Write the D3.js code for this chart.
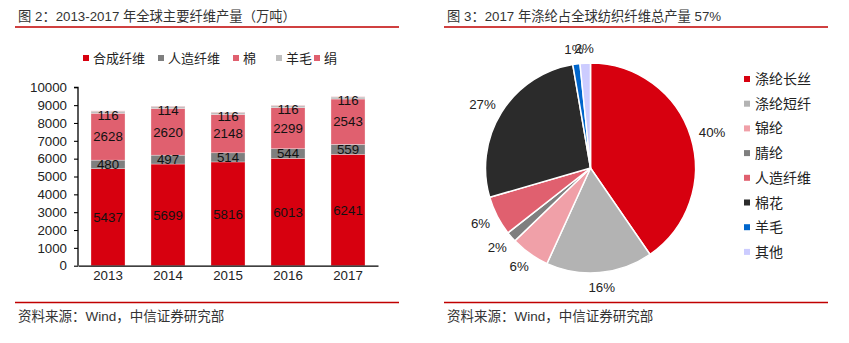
<!DOCTYPE html>
<html><head><meta charset="utf-8">
<script src="https://cdn.jsdelivr.net/npm/d3@7"></script>
<style>
body{margin:0;background:#fff;}
text{font-family:"Liberation Sans",Arial,"Noto Sans CJK SC",sans-serif;}
</style></head>
<body><svg id="c" width="849" height="343"></svg>
<script>
// ---- data: bar chart ----
const years = ["2013","2014","2015","2016","2017"];
const synthetic = [5437,5699,5816,6013,6241];   // 合成纤维
const rayon = [480,497,514,544,559];             // 人造纤维
const cotton = [2628,2620,2148,2299,2543];       // 棉
const wool = [116,114,116,116,116];              // 羊毛
const silk = [15,15,15,15,15];                   // 绢 (tiny, estimated)
const barSeriesNames = ["合成纤维","人造纤维","棉","羊毛","绢"];
const barColors = ["#D7000F","#7F7F7F","#E0606F","#BFBFBF","#E0606F"];
const yTicks = [0,1000,2000,3000,4000,5000,6000,7000,8000,9000,10000];
const barLabelSeries = [true,true,true,true,false];

// ---- data: pie chart ----
const pieNames = ["涤纶长丝","涤纶短纤","锦纶","腈纶","人造纤维","棉花","羊毛","其他"];
const pieValues = [40.4,16.4,6.0,1.6,6.1,26.8,1.1,1.6];
const pieColors = ["#D7000F","#B3B3B3","#F0A0A8","#7F7F7F","#E0606F","#2B2B2B","#0066CC","#CCCCFF"];

const svg = d3.select("#c");
const cjk = '"Noto Sans CJK SC","Liberation Sans",sans-serif';
const mixed = '"Liberation Sans","Noto Sans CJK SC",sans-serif';
const txt = "#222";

// headers & footers
function frame(x0, x1, title){
  svg.append("text").attr("x",x0+3).attr("y",21).attr("font-size",13.3).attr("fill","#333")
    .style("font-family",mixed).text(title);
  svg.append("line").attr("x1",x0).attr("x2",x1).attr("y1",27).attr("y2",27)
    .attr("stroke","#C00000").attr("stroke-width",1.3);
  svg.append("line").attr("x1",x0).attr("x2",x1).attr("y1",302.5).attr("y2",302.5)
    .attr("stroke","#C00000").attr("stroke-width",1.3);
  svg.append("text").attr("x",x0+3).attr("y",321).attr("font-size",13.5).attr("fill","#333")
    .style("font-family",mixed).text("资料来源：Wind，中信证券研究部");
}
frame(15,399,"图 2：2013-2017 年全球主要纤维产量（万吨）");
frame(444,828,"图 3：2017 年涤纶占全球纺织纤维总产量 57%");

// ---- bar chart ----
const x = d3.scaleBand().domain(years).range([78,378]).paddingInner(0.433).paddingOuter(0.2165);
const y = d3.scaleLinear().domain([0,10000]).range([265.7,87.3]);
const rows = years.map((yr,i)=>({year:yr, s0:synthetic[i], s1:rayon[i], s2:cotton[i], s3:wool[i], s4:silk[i]}));
const stack = d3.stack().keys(["s0","s1","s2","s3","s4"])(rows);

const g = svg.append("g");
stack.forEach((layer,li)=>{
  g.append("g").selectAll("rect").data(layer).join("rect")
    .attr("x",d=>x(d.data.year)).attr("width",x.bandwidth())
    .attr("y",d=>y(d[1])).attr("height",d=>y(d[0])-y(d[1]))
    .attr("fill",barColors[li]).attr("stroke","#fff").attr("stroke-opacity",0.5).attr("stroke-width",0.6);
});
stack.forEach((layer,li)=>{
  if(!barLabelSeries[li]) return;
  g.append("g").selectAll("text").data(layer).join("text")
    .attr("x",d=>x(d.data.year)+x.bandwidth()/2)
    .attr("y",d=>(y(d[0])+y(d[1]))/2 + (li===3?2.5:0))
    .attr("dy","0.36em").attr("text-anchor","middle").attr("font-size",13.3).attr("fill","#111")
    .text(d=>d[1]-d[0]);
});

const yAxis = d3.axisLeft(y).tickValues(yTicks).tickSize(4).tickPadding(7).tickFormat(d3.format("d"));
const ya = svg.append("g").attr("transform","translate(78,0)").call(yAxis);
ya.select(".domain").attr("stroke","#000").attr("stroke-width",1.3).attr("d","M-4,87.3H0V265.7");
ya.selectAll(".tick line").attr("stroke","#000").attr("stroke-width",1.1);
ya.selectAll(".tick text").attr("font-size",13.3).attr("fill",txt).style("font-family","'Liberation Sans',Arial");

const xAxis = d3.axisBottom(x).tickSize(0).tickPadding(5);
const xa = svg.append("g").attr("transform","translate(0,265.7)").call(xAxis);
xa.select(".domain").attr("stroke","#000").attr("stroke-width",1.3);
xa.selectAll(".tick text").attr("font-size",13.3).attr("fill",txt).style("font-family","'Liberation Sans',Arial");

// bar legend
const legX = [83,158,233,276,314];
barSeriesNames.forEach((n,i)=>{
  svg.append("rect").attr("x",legX[i]).attr("y",55).attr("width",6).attr("height",6).attr("fill",barColors[i]);
  svg.append("text").attr("x",legX[i]+10).attr("y",63).attr("font-size",13).attr("fill",txt)
    .style("font-family",cjk).text(n);
});

// ---- pie chart ----
const cx = 590.5, cy = 168, R = 105;
const pie = d3.pie().sort(null).value(d=>d)(pieValues);
const arc = d3.arc().innerRadius(0).outerRadius(R);
const pg = svg.append("g").attr("transform",`translate(${cx},${cy})`);
pg.selectAll("path").data(pie).join("path")
  .attr("d",arc).attr("fill",(d,i)=>pieColors[i]).attr("stroke","#fff").attr("stroke-width",1.5);

const total = d3.sum(pieValues);
const labR = 116;
pg.selectAll("text").data(pie).join("text")
  .each(function(d){
    const a = (d.startAngle+d.endAngle)/2;
    const s = Math.sin(a), c = Math.cos(a);
    const label = Math.round(d.value/total*100)+"%";
    const w = label.length*7.6, h = 8;
    const px = labR*s + (w/2)*s;
    const py = -labR*c - (h/2)*c;
    d3.select(this).attr("x",px).attr("y",py).attr("dy","0.36em").attr("text-anchor","middle")
      .attr("font-size",13.3).attr("fill",txt).text(label);
  });

// pie legend
pieNames.forEach((n,i)=>{
  const ly = 79 + i*24.7;
  svg.append("rect").attr("x",744).attr("y",ly-3).attr("width",6).attr("height",6).attr("fill",pieColors[i]);
  svg.append("text").attr("x",755).attr("y",ly).attr("dy","0.36em").attr("font-size",14).attr("fill",txt)
    .style("font-family",cjk).text(n);
});
</script></body></html>
